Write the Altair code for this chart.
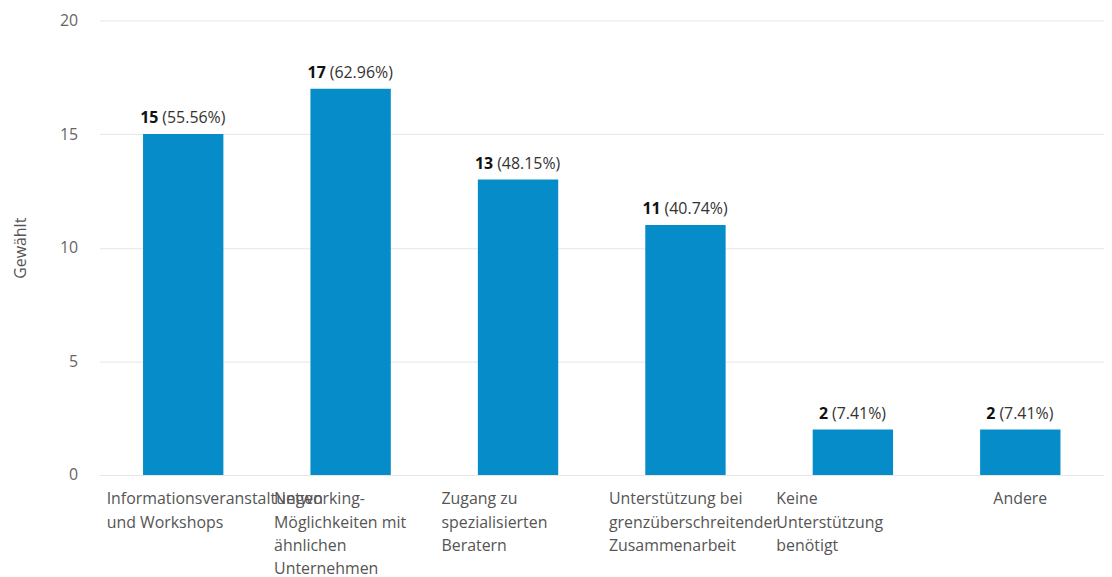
import altair as alt
import pandas as pd

label_lines = [
    "Informationsveranstaltungen|und Workshops",
    "Networking-|Möglichkeiten mit|ähnlichen|Unternehmen",
    "Zugang zu|spezialisierten|Beratern",
    "Unterstützung bei|grenzüberschreitender|Zusammenarbeit",
    "Keine|Unterstützung|benötigt",
    "Andere",
]
counts = [15, 17, 13, 11, 2, 2]
percents = ["(55.56%)", "(62.96%)", "(48.15%)", "(40.74%)", "(7.41%)", "(7.41%)"]
y_ticks = [0, 5, 10, 15, 20]

df = pd.DataFrame({
    "cat": label_lines,
    "count": counts,
    "pct": percents,
})

FONT = "Open Sans"
BLUE = "#068cc8"

x = alt.X(
    "cat:N",
    sort=label_lines,
    title=None,
    scale=alt.Scale(paddingInner=0.52, paddingOuter=0.26),
    axis=alt.Axis(
        labelExpr="split(datum.label, '|')",
        labelAngle=0,
        labelAlign={"condition": {"test": "datum.value == 'Andere'", "value": "center"}, "value": "left"},
        labelOffset={"condition": {"test": "datum.value == 'Andere'", "value": 0}, "value": -77},
        labelBaseline="top",
        labelFont=FONT,
        labelFontSize=16,
        labelColor="#555555",
        labelLineHeight=23.5,
        labelPadding=16,
        labelLimit=400,
        labelOverlap=False,
        ticks=False,
        domain=False,
        domainColor="transparent",
        grid=False,
        gridColor="transparent",
    ),
)
y = alt.Y(
    "count:Q",
    title="Gewählt",
    scale=alt.Scale(domain=[0, 20]),
    axis=alt.Axis(
        values=y_ticks,
        labelFont=FONT,
        labelFontSize=16,
        labelColor="#666666",
        labelPadding=22,
        ticks=False,
        domain=False,
        domainColor="transparent",
        gridColor="#e6e6e6",
        titleFont=FONT,
        titleFontSize=16,
        titleFontWeight="normal",
        titleColor="#555555",
        titlePadding=31,
    ),
)

base = alt.Chart(df)
bars = base.mark_bar(color=BLUE).encode(x=x, y=y)
num = base.mark_text(
    align="right", baseline="bottom", dy=-8, dx=-25,
    font=FONT, fontSize=16, fontWeight="bold", color="#111111",
).encode(x=x, y=y, text="count:Q")
pct = base.mark_text(
    align="left", baseline="bottom", dy=-8, dx=-21,
    font=FONT, fontSize=16, color="#333333",
).encode(x=x, y=y, text="pct:N")

chart = (
    alt.layer(bars, num, pct)
    .properties(width=1010, height=457, view=alt.ViewBackground(strokeOpacity=0, stroke="transparent"))
    .configure_view(stroke="transparent", strokeWidth=0, strokeOpacity=0)
    .configure(padding={"left": 4, "top": 3, "right": 0, "bottom": 0})
)

chart.save("out.html", embed_options={"renderer": "svg", "actions": False})
